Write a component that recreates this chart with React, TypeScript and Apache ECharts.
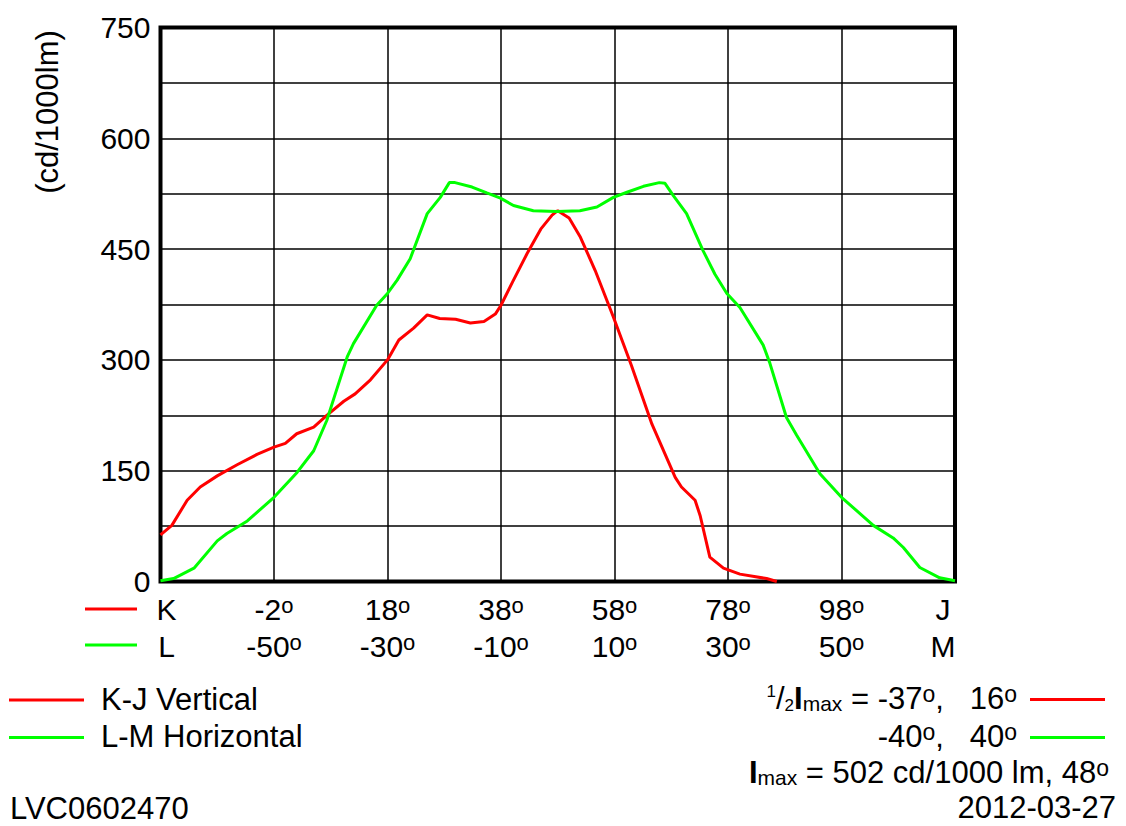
import React, { useEffect, useRef } from "react";
import * as echarts from "echarts";

const FONT = '"Liberation Sans", Arial, Helvetica, sans-serif';

// axis definitions
const yMax = 750;
const yStep = 75;
const yLabelStep = 150;
const kjStart = -22; // K
const lmStart = -70; // L
const xSpan = 140;
const xStep = 20;
const kjTickLabels = ["K", "-2", "18", "38", "58", "78", "98", "J"];
const lmTickLabels = ["L", "-50", "-30", "-10", "10", "30", "50", "M"];

// K-J Vertical (red)
const redAngles = [
  -22, -20, -17.3, -15, -12, -8.5, -5, -2, 0, 2, 5, 7.3, 10.3, 12.3, 15, 18, 20, 22.6, 25, 27.2, 30, 32.6, 35, 37,
  38, 40, 42.6, 45, 47, 48, 50, 52, 54.6, 57.8, 61, 64.6, 68.7, 69.8, 72.2, 73.1, 74.8, 77.2, 80.1, 84.8, 86.6,
];
const redValues = [
  63, 76, 110, 128, 143, 158, 172, 182, 187, 200, 209, 225, 244, 254, 273, 300, 327, 343, 361, 356, 355, 350, 352, 362,
  374, 405, 444, 477, 496, 502, 492, 466, 421, 358, 292, 213, 141, 128, 110, 89, 33, 18, 10, 4, 0,
];

// L-M Horizontal (green)
const greenAngles = [
  -70, -67.7, -64.1, -60, -58.3, -54.7, -50, -45.9, -43, -40.7, -39.2, -37.1, -36, -31.9, -30, -28.3, -26, -23, -20.7,
  -19.1, -18.1, -15.1, -12.5, -10.1, -7.8, -4.3, -0.2, 3.9, 6.9, 9.8, 12.2, 15.1, 17.9, 18.9, 20.4, 22.7, 25.6, 27.7,
  29.8, 32.1, 36.2, 37.4, 40.3, 42.1, 46.2, 50, 55.6, 59.1, 60.9, 63.8, 67.3, 70,
];
const greenValues = [
  1, 4, 18, 55, 65, 82, 114, 148, 177, 218, 254, 304, 322, 374, 390, 408, 437, 498, 520, 540, 540, 534, 526, 519, 509,
  502, 501, 502, 507, 520, 527, 535, 540, 539, 522, 498, 448, 416, 390, 371, 320, 295, 222, 198, 146, 114, 76, 59, 46,
  19, 5, 1,
];

const RED = "#ff0000";
const GREEN = "#00ff00";

const baseRich = {
  n: { fontSize: 30, fontFamily: FONT, lineHeight: 30, color: "#000" },
  s: { fontSize: 22, fontFamily: FONT, lineHeight: 14, verticalAlign: "top", color: "#000" },
  first: { fontSize: 30, fontFamily: FONT, lineHeight: 30, color: "#000", padding: [0, 0, 0, 12] },
  last: { fontSize: 30, fontFamily: FONT, lineHeight: 30, color: "#000", padding: [0, 24, 0, 0] },
};

function makeFormatter(labels: string[]) {
  return (v: number) => {
    const i = Math.round(v / xStep);
    const t = labels[i];
    if (t === undefined) return "";
    if (i === 0) return `{first|${t}}`;
    if (i === labels.length - 1) return `{last|${t}}`;
    return `{n|${t}}{s|o}`;
  };
}

const TXT = 31;

const tokenStyle = (size: number, extra: any = {}) => ({
  fontSize: size,
  fontFamily: FONT,
  fill: "#000",
  ...extra,
});

const richText = {
  n: tokenStyle(TXT, { lineHeight: 30 }),
  deg: tokenStyle(23, { lineHeight: 13, verticalAlign: "top" }),
  fsup: tokenStyle(17, { lineHeight: 6, verticalAlign: "top" }),
  fsub: tokenStyle(17, { lineHeight: 8, verticalAlign: "bottom" }),
  sub: tokenStyle(21, { lineHeight: 12, verticalAlign: "bottom" }),
  b: tokenStyle(TXT, { lineHeight: 30, fontWeight: "bold" }),
};

export default function App() {
  const ref = useRef<HTMLDivElement>(null);

  useEffect(() => {
    if (!ref.current) return;
    const chart = echarts.init(ref.current, undefined, { renderer: "svg" });

    const redData = redAngles.map((a, i) => [a - kjStart, redValues[i]]);
    const greenData = greenAngles.map((a, i) => [a - lmStart, greenValues[i]]);

    const plainText = (text: string, x: number, y: number, align: string) => ({
      type: "text",
      x,
      y,
      style: {
        text,
        fontSize: TXT,
        fontFamily: FONT,
        fill: "#000",
        align,
        verticalAlign: "middle",
      },
    });

    const richGraphic = (text: string, x: number, y: number) => ({
      type: "text",
      x,
      y,
      style: {
        text,
        fontSize: TXT,
        fontFamily: FONT,
        fill: "#000",
        align: "right",
        verticalAlign: "middle",
        rich: richText,
      },
    });

    const legLine = (x1: number, x2: number, y: number, color: string) => ({
      type: "line",
      shape: { x1, y1: y, x2, y2: y },
      style: { stroke: color, lineWidth: 3 },
    });

    chart.setOption({
      animation: false,
      backgroundColor: "#fff",
      grid: {
        left: 160.5,
        top: 27.5,
        width: 794.5,
        height: 554,
        show: true,
        borderColor: "#000",
        borderWidth: 4,
        backgroundColor: "transparent",
      },
      xAxis: [
        {
          type: "value",
          min: 0,
          max: xSpan,
          interval: xStep,
          position: "bottom",
          axisLine: { show: false },
          axisTick: { show: false },
          splitLine: { show: true, lineStyle: { color: "#000", width: 1.5 } },
          axisLabel: { margin: 13, formatter: makeFormatter(kjTickLabels), rich: baseRich },
        },
        {
          type: "value",
          min: 0,
          max: xSpan,
          interval: xStep,
          position: "bottom",
          offset: 37,
          axisLine: { show: false },
          axisTick: { show: false },
          splitLine: { show: false },
          axisLabel: { margin: 13, formatter: makeFormatter(lmTickLabels), rich: baseRich },
        },
      ],
      yAxis: {
        type: "value",
        min: 0,
        max: yMax,
        interval: yStep,
        axisLine: { show: false },
        axisTick: { show: false },
        splitLine: { show: true, lineStyle: { color: "#000", width: 1.5 } },
        axisLabel: {
          margin: 10,
          fontSize: 30,
          fontFamily: FONT,
          color: "#000",
          formatter: (v: number) => (v % yLabelStep === 0 ? String(v) : ""),
        },
      },
      series: [
        {
          name: "K-J Vertical",
          type: "line",
          xAxisIndex: 0,
          data: redData,
          showSymbol: false,
          lineStyle: { color: RED, width: 3 },
          itemStyle: { color: RED },
          z: 3,
        },
        {
          name: "L-M Horizontal",
          type: "line",
          xAxisIndex: 1,
          data: greenData,
          showSymbol: false,
          lineStyle: { color: GREEN, width: 3 },
          itemStyle: { color: GREEN },
          z: 4,
        },
      ],
      graphic: [
        {
          type: "text",
          x: 47,
          y: 112,
          rotation: Math.PI / 2,
          style: {
            text: "(cd/1000lm)",
            fontSize: TXT,
            fontFamily: FONT,
            fill: "#000",
            align: "center",
            verticalAlign: "middle",
          },
        },
        legLine(85, 137, 609, RED),
        legLine(85, 137, 645, GREEN),
        legLine(9, 84, 700, RED),
        legLine(9, 84, 737.5, GREEN),
        plainText("K-J Vertical", 101, 699, "left"),
        plainText("L-M Horizontal", 101, 736, "left"),
        plainText("LVC0602470", 10, 808.5, "left"),
        plainText("2012-03-27", 1116, 807.5, "right"),
        richGraphic("{fsup|1}/{fsub|2}{b|I}{sub|max} = -37{deg|o},   16{deg|o}", 1017, 698),
        richGraphic("-40{deg|o},   40{deg|o}", 1017, 736),
        richGraphic("{b|I}{sub|max} = 502 cd/1000 lm, 48{deg|o}", 1109, 772),
        legLine(1030, 1105, 699.5, RED),
        legLine(1030, 1105, 737.5, GREEN),
      ],
    });

    return () => chart.dispose();
  }, []);

  return (
    <div
      ref={ref}
      style={{ position: "fixed", left: 0, top: 0, width: 1126, height: 826, background: "#fff" }}
    />
  );
}
